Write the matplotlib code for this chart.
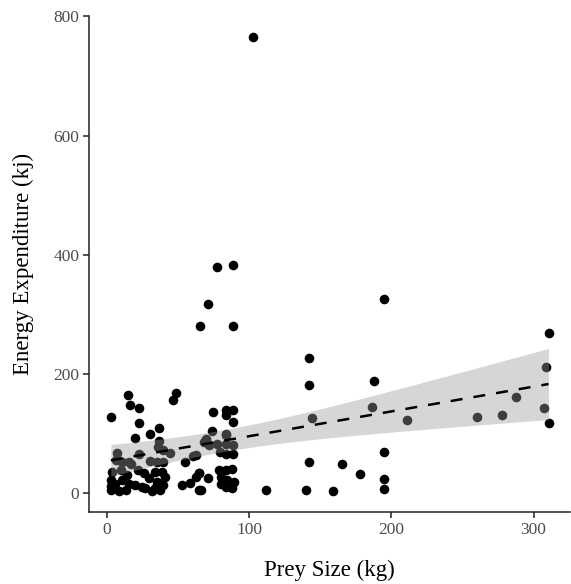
import numpy as np
import matplotlib.pyplot as plt

plt.rcParams['font.family'] = ['Liberation Serif', 'DejaVu Serif']

# prey size (kg) and energy expenditure (kj)
prey_size = [
    102.6, 77.4, 88.7, 71.4, 65.6, 88.7,
    194.7, 310.5, 142, 142, 188, 309,
    144, 186.4, 210.7, 260, 278, 287.6, 307, 310.5,
    194.7, 142, 165, 178, 194.7, 112, 140, 158.7, 194.7,
    15.2, 16.6, 22.9, 3.2, 22.9, 36.7, 30.5, 19.6, 36.7, 48.5, 46.2,
    7.4, 22.4, 30.5, 6.2, 10.9, 15.5, 17.3, 3.5, 9.7, 14.3, 21.9, 25.8,
    29.3, 2.8, 10.9, 15.5, 20.1, 24.7, 2.8, 8.5, 13.2, 27, 31.7, 3, 6,
    36.2, 39.7, 44.4, 35.1, 39.7, 54.7, 60.5, 62.8, 34, 38.6, 40.9, 35.1,
    39.7, 34, 37.4, 52.5, 58.2, 64.7, 62.8, 66.3,
    74.4, 83.6, 88.9, 83.6, 88.9, 73.7, 84, 69.8, 68.6, 72, 77.4, 83.6,
    79.7, 83.6, 88.9, 79, 83.6, 88.2, 65.1, 70.9, 80.2, 84.8, 89.4, 80.2,
    83.6, 88.2, 65.1, 88.7, 83.6,
]
energy = [
    765, 380, 382, 318, 281, 281,
    326, 268, 227, 181, 188, 211,
    126, 145, 123, 127, 131, 161, 143, 117,
    69, 52, 49, 32, 23, 6, 6, 4, 7,
    165, 148, 142, 128, 118, 110, 100, 92, 87, 168, 157,
    67, 65, 54, 55, 52, 52, 49, 36, 38, 30, 38, 33,
    25, 22, 22, 16, 13, 11, 6, 4, 6, 8, 4, 12, 15,
    77, 72, 67, 52, 52, 52, 62, 64, 36, 36, 27, 19,
    13, 8, 5, 13, 17, 33, 27, 6,
    136, 139, 139, 131, 120, 105, 99, 90, 86, 80, 82, 97,
    69, 65, 66, 38, 38, 41, 33, 25, 27, 22, 19, 16,
    11, 8, 6, 80, 82,
]

x = np.array(prey_size)
y = np.array(energy)

# linear fit with 95% confidence band (like geom_smooth(method="lm"))
n = len(x)
b1, b0 = np.polyfit(x, y, 1)
resid = y - (b0 + b1 * x)
s = np.sqrt(np.sum(resid ** 2) / (n - 2))
xg = np.linspace(x.min(), x.max(), 80)
yg = b0 + b1 * xg
se = s * np.sqrt(1 / n + (xg - x.mean()) ** 2 / np.sum((x - x.mean()) ** 2))
tcrit = 1.98
lo = yg - tcrit * se
hi = yg + tcrit * se

fig = plt.figure(figsize=(5.71, 5.84), dpi=100)
ax = fig.add_axes([0.156, 0.123, 0.842, 0.850])

ax.scatter(x, y, s=48, c='black', linewidths=0, zorder=2)
ax.fill_between(xg, lo, hi, color='#999999', alpha=0.4, linewidth=0, zorder=3)
ax.plot(xg, yg, color='black', lw=1.8, dashes=(4.8, 4.4), zorder=4)

ax.set_xlim(-12.5, 325.5)
ax.set_ylim(-32, 801)
ax.set_xticks([0, 100, 200, 300])
ax.set_yticks([0, 200, 400, 600, 800])

for side in ['top', 'right']:
    ax.spines[side].set_visible(False)
for side in ['left', 'bottom']:
    ax.spines[side].set_linewidth(1.1)
    ax.spines[side].set_color('#222222')
ax.tick_params(length=4, width=1.1, labelsize=12.5, colors='#222222',
               labelcolor='#4d4d4d', pad=3)

ax.set_xlabel('Prey Size (kg)', fontsize=16.5, labelpad=16)
ax.set_ylabel('Energy Expenditure (kj)', fontsize=16.5, labelpad=14)

fig.savefig('out.png', dpi=100)
